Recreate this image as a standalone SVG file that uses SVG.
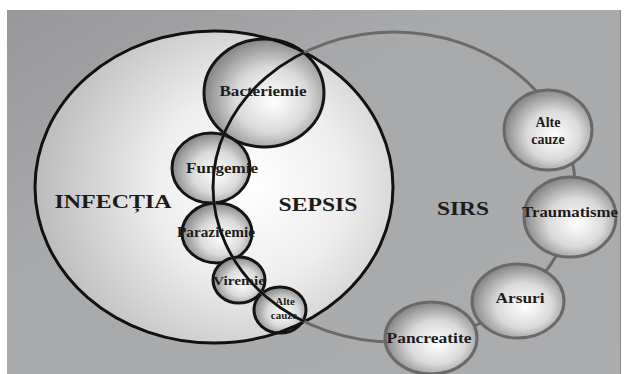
<svg xmlns="http://www.w3.org/2000/svg" width="625" height="374" viewBox="0 0 625 374">
<defs>
<linearGradient id="bg" x1="0" y1="0" x2="1" y2="1">
<stop offset="0" stop-color="#98989a"/>
<stop offset="0.35" stop-color="#a8a9ab"/>
<stop offset="1" stop-color="#abacae"/>
</linearGradient>
<radialGradient id="big" gradientUnits="userSpaceOnUse" cx="250" cy="185" r="210">
<stop offset="0" stop-color="#ffffff"/>
<stop offset="0.45" stop-color="#eeeeee"/>
<stop offset="1" stop-color="#bdbdbd"/>
</radialGradient>
<radialGradient id="ball" cx="0.55" cy="0.55" r="0.55" fx="0.58" fy="0.58">
<stop offset="0" stop-color="#ffffff"/>
<stop offset="0.55" stop-color="#dadada"/>
<stop offset="1" stop-color="#888888"/>
</radialGradient>
<clipPath id="inInf">
<ellipse cx="214" cy="187" rx="179" ry="156"/>
</clipPath>
<style>
.lbl{font-family:"Liberation Serif","Times New Roman",serif;font-weight:bold;fill:#1c1c1c;text-anchor:middle}
.big{font-size:19px}
.sm{font-size:14px}
.xs{font-size:11px}
.lball{fill:url(#ball);stroke:#141414;stroke-width:3}
.rball{fill:url(#ball);stroke:#696969;stroke-width:3}
</style>
</defs>
<rect x="0" y="0" width="625" height="374" fill="#ffffff"/>
<rect x="7" y="10" width="613" height="364" fill="url(#bg)"/>
<line x1="620.5" y1="10" x2="620.5" y2="374" stroke="#8a8a8a" stroke-width="1"/>

<g id="infectia">
<ellipse cx="214" cy="187" rx="179" ry="156" fill="url(#big)"/>
</g>

<g id="bacteriemie">
<ellipse class="lball" cx="264" cy="93" rx="60" ry="54"/>
<text class="lbl sm" x="263" y="96" textLength="87" lengthAdjust="spacingAndGlyphs">Bacteriemie</text>
</g>
<g id="fungemie">
<ellipse class="lball" cx="211" cy="168" rx="39" ry="35"/>
<text class="lbl sm" x="222" y="173" textLength="72" lengthAdjust="spacingAndGlyphs">Fungemie</text>
</g>
<g id="parazitemie">
<ellipse class="lball" cx="217" cy="233" rx="35" ry="30"/>
<text class="lbl sm" x="216" y="237" textLength="78" lengthAdjust="spacingAndGlyphs">Parazitemie</text>
</g>
<g id="viremie">
<ellipse class="lball" cx="239" cy="280" rx="26" ry="23"/>
<text class="lbl" style="font-size:13px" x="239" y="285" textLength="52" lengthAdjust="spacingAndGlyphs">Viremie</text>
</g>
<g id="alte-cauze-1">
<ellipse class="lball" cx="280" cy="310" rx="26" ry="23"/>
<text class="lbl xs" x="285" y="305">Alte</text>
<text class="lbl xs" x="284" y="319">cauze</text>
</g>

<g id="connectors">
<ellipse cx="214" cy="187" rx="179" ry="156" fill="none" stroke="#111111" stroke-width="3"/>
<ellipse cx="394" cy="187" rx="181" ry="155" fill="none" stroke="#6a6a6a" stroke-width="3"/>
<ellipse cx="394" cy="187" rx="181" ry="155" fill="none" stroke="#111111" stroke-width="2.5" clip-path="url(#inInf)"/>
</g>

<g id="labels">
<text class="lbl big" x="113" y="208" textLength="117" lengthAdjust="spacingAndGlyphs">INFECȚIA</text>
<text class="lbl big" x="318" y="211" textLength="79" lengthAdjust="spacingAndGlyphs">SEPSIS</text>
<text class="lbl big" x="463" y="215" textLength="52" lengthAdjust="spacingAndGlyphs">SIRS</text>
</g>

<g id="alte-cauze-2">
<ellipse class="rball" cx="548" cy="130" rx="44" ry="40"/>
<text class="lbl sm" x="548" y="127">Alte</text>
<text class="lbl sm" x="548" y="144">cauze</text>
</g>
<g id="traumatisme">
<ellipse class="rball" cx="570" cy="217" rx="46" ry="40"/>
<text class="lbl sm" x="570" y="217" textLength="96" lengthAdjust="spacingAndGlyphs">Traumatisme</text>
</g>
<g id="arsuri">
<ellipse class="rball" cx="518" cy="301" rx="46" ry="37"/>
<text class="lbl sm" x="520" y="303" textLength="49" lengthAdjust="spacingAndGlyphs">Arsuri</text>
</g>
<g id="pancreatite">
<ellipse class="rball" cx="431" cy="338" rx="46" ry="36"/>
<text class="lbl sm" x="429" y="343" textLength="85" lengthAdjust="spacingAndGlyphs">Pancreatite</text>
</g>
</svg>
